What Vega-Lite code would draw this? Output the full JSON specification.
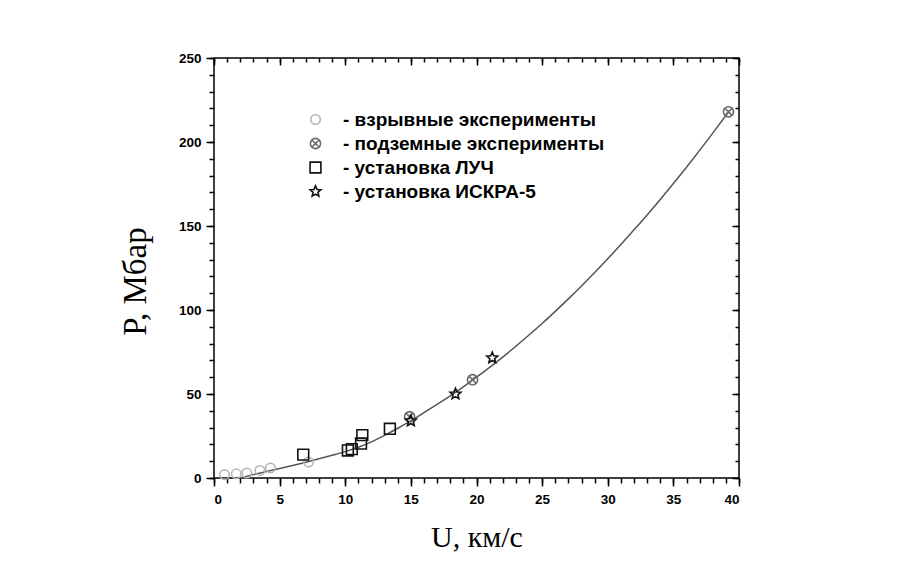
{
  "$schema": "https://vega.github.io/schema/vega-lite/v6.json",
  "autosize": {"type": "none"},
  "padding": {"left": 214, "top": 58, "right": 166, "bottom": 91},
  "width": 525,
  "height": 420,
  "background": "white",
  "config": {
    "view": {"stroke": "black", "strokeWidth": 1.5},
    "axis": {"grid": false, "domain": false, "tickColor": "black", "tickWidth": 1.5, "labelFont": "Liberation Sans", "labelFontWeight": "bold", "labelFontSize": 13.5, "labelColor": "black", "titleFont": "Liberation Serif", "titleFontWeight": "normal", "titleFontSize": 30, "titleColor": "black"}
  },
  "datasets": {
    "curve": [
      {"U": 2.0, "P": 0}, {"U": 3, "P": 2.0}, {"U": 4, "P": 3.9}, {"U": 5, "P": 5.7}, {"U": 6, "P": 7.5},
      {"U": 7, "P": 9.4}, {"U": 8, "P": 11.4}, {"U": 9, "P": 13.5}, {"U": 10, "P": 15.7}, {"U": 11, "P": 18.3},
      {"U": 12, "P": 21.5}, {"U": 13, "P": 25.4}, {"U": 14, "P": 29.6}, {"U": 15, "P": 34.0}, {"U": 16, "P": 38.9},
      {"U": 17, "P": 43.8}, {"U": 18, "P": 48.9}, {"U": 19, "P": 54.3}, {"U": 20, "P": 60.0}, {"U": 21, "P": 65.9},
      {"U": 22, "P": 72.0}, {"U": 23, "P": 78.4}, {"U": 24, "P": 85.1}, {"U": 25, "P": 92.0}, {"U": 26, "P": 99.2},
      {"U": 27, "P": 106.6}, {"U": 28, "P": 114.3}, {"U": 29, "P": 122.3}, {"U": 30, "P": 130.5}, {"U": 31, "P": 139.0},
      {"U": 32, "P": 147.7}, {"U": 33, "P": 156.6}, {"U": 34, "P": 165.8}, {"U": 35, "P": 175.3}, {"U": 36, "P": 185.0},
      {"U": 37, "P": 195.0}, {"U": 38, "P": 205.3}, {"U": 39.2, "P": 217.9}
    ],
    "points": [
      {"series": "- взрывные эксперименты", "U": 0.8, "P": 2.0},
      {"series": "- взрывные эксперименты", "U": 1.7, "P": 2.5},
      {"series": "- взрывные эксперименты", "U": 2.5, "P": 3.0},
      {"series": "- взрывные эксперименты", "U": 3.5, "P": 4.5},
      {"series": "- взрывные эксперименты", "U": 4.3, "P": 6.0},
      {"series": "- взрывные эксперименты", "U": 7.2, "P": 9.5},
      {"series": "- подземные эксперименты", "U": 14.9, "P": 36.5},
      {"series": "- подземные эксперименты", "U": 19.7, "P": 58.5},
      {"series": "- подземные эксперименты", "U": 39.2, "P": 218.0},
      {"series": "- установка ЛУЧ", "U": 6.8, "P": 13.9},
      {"series": "- установка ЛУЧ", "U": 10.2, "P": 16.4},
      {"series": "- установка ЛУЧ", "U": 10.5, "P": 17.2},
      {"series": "- установка ЛУЧ", "U": 11.2, "P": 20.5},
      {"series": "- установка ЛУЧ", "U": 11.3, "P": 25.5},
      {"series": "- установка ЛУЧ", "U": 13.4, "P": 29.3},
      {"series": "- установка ИСКРА-5", "U": 15.0, "P": 34.0},
      {"series": "- установка ИСКРА-5", "U": 18.4, "P": 50.0},
      {"series": "- установка ИСКРА-5", "U": 21.2, "P": 71.5}
    ]
  },
  "resolve": {"axis": {"x": "independent", "y": "independent"}},
  "layer": [
    {
      "data": {"name": "curve"},
      "mark": {"type": "line", "color": "#555555", "strokeWidth": 1.5, "interpolate": "monotone"},
      "encoding": {
        "x": {"field": "U", "type": "quantitative", "scale": {"domain": [0, 40], "nice": false},
          "axis": {"orient": "bottom", "values": [0, 5, 10, 15, 20, 25, 30, 35, 40], "tickSize": 8, "labelPadding": 6, "title": "U, км/с", "titlePadding": 17}},
        "y": {"field": "P", "type": "quantitative", "scale": {"domain": [0, 250], "nice": false},
          "axis": {"orient": "left", "values": [0, 50, 100, 150, 200, 250], "tickSize": 8, "labelPadding": 5, "title": "P, Мбар", "titlePadding": 26, "titleY": 223, "titleFontSize": 33}}
      }
    },
    {
      "data": {"name": "curve"},
      "mark": {"type": "line", "strokeOpacity": 0},
      "encoding": {
        "x": {"field": "U", "type": "quantitative",
          "axis": {"orient": "bottom", "values": [0,1,2,3,4,5,6,7,8,9,10,11,12,13,14,15,16,17,18,19,20,21,22,23,24,25,26,27,28,29,30,31,32,33,34,35,36,37,38,39,40], "tickSize": 5, "labels": false, "title": null}},
        "y": {"field": "P", "type": "quantitative",
          "axis": {"orient": "left", "values": [0,10,20,30,40,50,60,70,80,90,100,110,120,130,140,150,160,170,180,190,200,210,220,230,240,250], "tickSize": 5, "labels": false, "title": null}}
      }
    },
    {
      "data": {"name": "curve"},
      "mark": {"type": "line", "strokeOpacity": 0},
      "encoding": {
        "x": {"field": "U", "type": "quantitative",
          "axis": {"orient": "top", "values": [0, 5, 10, 15, 20, 25, 30, 35, 40], "tickSize": -7, "labels": false, "title": null}},
        "y": {"field": "P", "type": "quantitative",
          "axis": {"orient": "right", "values": [0, 50, 100, 150, 200, 250], "tickSize": -7, "labels": false, "title": null}}
      }
    },
    {
      "data": {"name": "curve"},
      "mark": {"type": "line", "strokeOpacity": 0},
      "encoding": {
        "x": {"field": "U", "type": "quantitative",
          "axis": {"orient": "top", "values": [0,1,2,3,4,5,6,7,8,9,10,11,12,13,14,15,16,17,18,19,20,21,22,23,24,25,26,27,28,29,30,31,32,33,34,35,36,37,38,39,40], "tickSize": -4, "labels": false, "title": null}},
        "y": {"field": "P", "type": "quantitative",
          "axis": {"orient": "right", "values": [0,10,20,30,40,50,60,70,80,90,100,110,120,130,140,150,160,170,180,190,200,210,220,230,240,250], "tickSize": -4, "labels": false, "title": null}}
      }
    },
    {
      "data": {"name": "points"},
      "mark": {"type": "point", "filled": false, "strokeWidth": 1.6, "opacity": 1},
      "encoding": {
        "x": {"field": "U", "type": "quantitative", "axis": null},
        "y": {"field": "P", "type": "quantitative", "axis": null},
        "shape": {"field": "series", "type": "nominal",
          "scale": {"domain": ["- взрывные эксперименты", "- подземные эксперименты", "- установка ЛУЧ", "- установка ИСКРА-5"],
            "range": ["circle", "M-1,0A1,1 0 1,1 1,0A1,1 0 1,1 -1,0ZM-0.6,-0.6L0.6,0.6M0.6,-0.6L-0.6,0.6", "square", "M0,-1L0.265,-0.364L0.951,-0.309L0.428,0.139L0.588,0.809L0,0.45L-0.588,0.809L-0.428,0.139L-0.951,-0.309L-0.265,-0.364Z"]},
          "legend": {"orient": "none", "legendX": 92, "legendY": 52, "title": null, "padding": 0, "labelFont": "Liberation Sans", "labelFontWeight": "bold", "labelFontSize": 19, "labelColor": "black", "labelOffset": 18, "rowPadding": 4, "labelLimit": 400, "symbolStrokeWidth": 1.6}},
        "color": {"field": "series", "type": "nominal",
          "scale": {"domain": ["- взрывные эксперименты", "- подземные эксперименты", "- установка ЛУЧ", "- установка ИСКРА-5"],
            "range": ["#b5b5b5", "#6a6a6a", "#111111", "#111111"]}},
        "size": {"field": "series", "type": "nominal",
          "scale": {"domain": ["- взрывные эксперименты", "- подземные эксперименты", "- установка ЛУЧ", "- установка ИСКРА-5"],
            "range": [90, 130, 160, 230]}}
      }
    }
  ]
}
